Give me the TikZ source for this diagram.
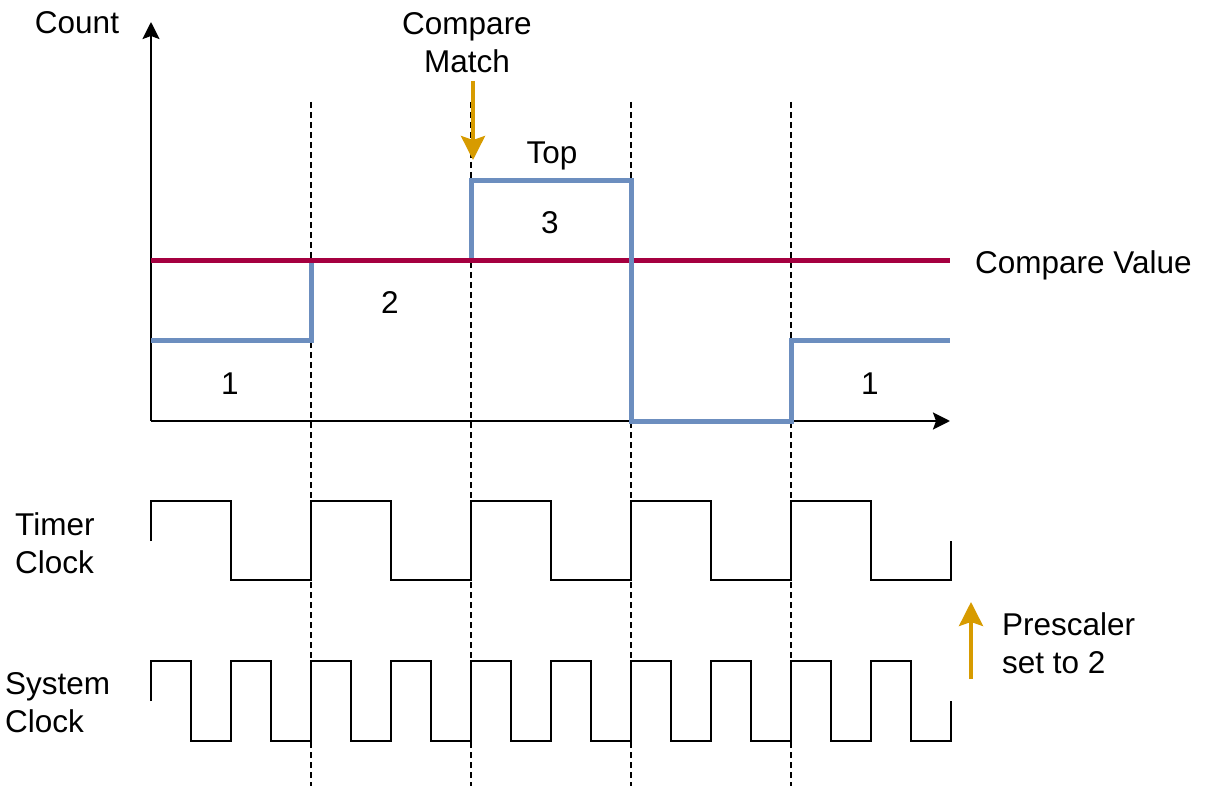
\documentclass[tikz,border=0pt]{standalone}
\usepackage{fontspec}
\setmainfont{Liberation Sans}
\usetikzlibrary{arrows.meta}
\definecolor{cblue}{HTML}{6C8EBF}
\definecolor{cred}{HTML}{A50040}
\definecolor{corange}{HTML}{D79B00}
\begin{document}
\begin{tikzpicture}[x=1pt,y=-1pt,
  lbl/.style={inner sep=0pt, font=\fontsize{31.5}{38}\selectfont},
  axis/.style={line width=2.5pt, -{Stealth[length=17pt,width=17pt,inset=3pt]}},
  guide/.style={line width=2.5pt, dash pattern=on 6pt off 4pt},
  wave/.style={line width=2.5pt},
  cnt/.style={line width=5pt, draw=cblue},
  cmpv/.style={line width=5pt, draw=cred},
  note/.style={line width=3.5pt, draw=corange, -{Stealth[length=24pt,width=24pt,inset=4pt]}, color=corange}]
\useasboundingbox (0,0) rectangle (1232,786);
% guides
\foreach \x/\n in {311/a,471/b,631/c,791/d}{
  \coordinate (g\n t) at (\x,102);
  \coordinate (g\n b) at (\x,786);
  \draw[guide] (g\n t) -- (g\n b);
}
% axes
\coordinate (o) at (151,421);
\coordinate (ytop) at (151,22);
\coordinate (xend) at (950,421);
\draw[axis] (o) -- (ytop);
\draw[axis] (o) -- (xend);
% count
\draw[cnt] (151,341) -- (311,341) -- (311,261) -- (471,261) -- (471,181) -- (631,181) -- (631,421) -- (791,421) -- (791,341) -- (950,341);
\draw[cmpv] (151,261) -- (950,261);
\draw[cnt] (631,181) -- (631,421);
% clocks
\draw[wave] (151,541) -- (151,501)
  \foreach \i in {1,...,4}{ -- ++(80,0) -- ++(0,79) -- ++(80,0) -- ++(0,-79)}
  -- ++(80,0) -- ++(0,79) -- ++(80,0) -- ++(0,-39);
\draw[wave] (151,701) -- (151,661)
  \foreach \i in {1,...,9}{ -- ++(40,0) -- ++(0,80) -- ++(40,0) -- ++(0,-80)}
  -- ++(40,0) -- ++(0,80) -- ++(40,0) -- ++(0,-40);
% labels
\node[lbl, anchor=base] (count) at (77,34) {Count};
\node[lbl, anchor=base, align=center] (match) at (467,73) {Compare\\Match};
\node[lbl, anchor=base] (top) at (552,164) {Top};
\node[lbl, anchor=base] (n1) at (230,394) {1};
\node[lbl, anchor=base] (n2) at (390,314) {2};
\node[lbl, anchor=base] (n3) at (550,234) {3};
\node[lbl, anchor=base] (n4) at (870,394) {1};
\node[lbl, anchor=base west] (cv) at (975,274) {Compare Value};
\node[lbl, anchor=base west, align=left] (tc) at (15,573) {Timer\\Clock};
\node[lbl, anchor=base west, align=left] (sc) at (5,732) {System\\Clock};
\node[lbl, anchor=base west, align=left] (ps) at (1002,673) {Prescaler\\set to 2};
% arrows
\coordinate (cmA) at (473,81);
\coordinate (cmB) at (473,160);
\draw[note] (cmA) -- (cmB);
\coordinate (psA) at (971,679);
\coordinate (psB) at (971,602);
\draw[note] (psA) -- (psB);
\end{tikzpicture}
\end{document}
